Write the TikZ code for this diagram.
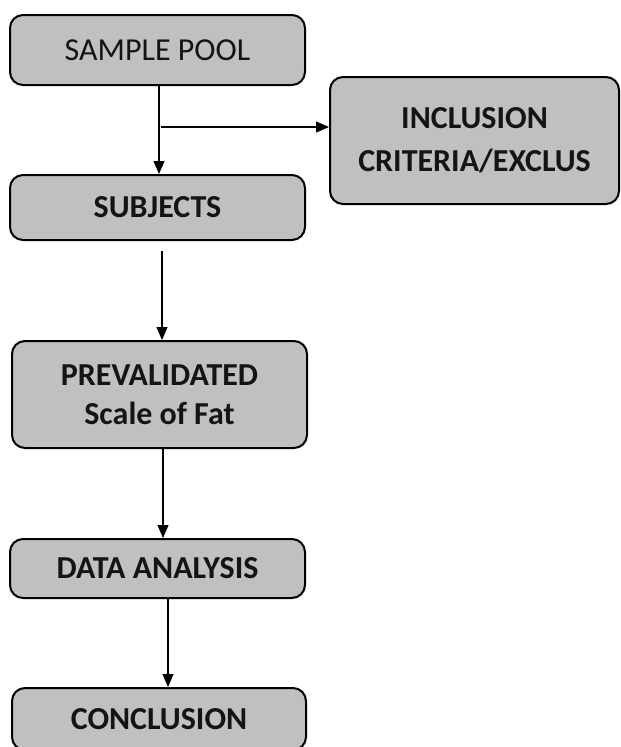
\documentclass[tikz,border=0pt]{standalone}
\usepackage{fontspec}
\setmainfont{Carlito}
\usetikzlibrary{arrows.meta,calc}
\definecolor{boxgray}{RGB}{192,192,192}
\definecolor{txt}{RGB}{20,20,20}
\tikzset{
  box/.style={draw=black, line width=2pt, fill=boxgray, rounded corners=13pt,
    align=center, text=txt, inner sep=0pt,
    font=\fontsize{32}{41}\selectfont},
  arr/.style={draw=black, line width=1.1pt, -{Triangle[length=13pt,width=11pt]}}
}
\begin{document}
\begin{tikzpicture}[x=1pt,y=-1pt]
\useasboundingbox (0,0) rectangle (621,747);
\clip (0,0) rectangle (621,747);
\node[box, minimum width=295pt, minimum height=70pt] (pool) at (157.5,50) {SAMPLE POOL};
\node[box, minimum width=295pt, minimum height=65pt, font=\fontsize{32}{41}\selectfont\bfseries] (subj) at (157.5,207.5) {SUBJECTS};
\node[box, minimum width=289pt, minimum height=127pt, font=\fontsize{32}{43}\selectfont\bfseries] (incl) at (474.5,140.5) {INCLUSION\\CRITERIA/EXCLUS};
\node[box, minimum width=295pt, minimum height=107pt, font=\fontsize{32}{39}\selectfont\bfseries] (prev) at (159.5,394.5) {PREVALIDATED\\Scale of Fat};
\node[box, minimum width=295pt, minimum height=59pt, font=\fontsize{32}{41}\selectfont\bfseries] (data) at (157.5,568.5) {DATA ANALYSIS};
\node[box, minimum width=294pt, minimum height=62pt, font=\fontsize{32}{41}\selectfont\bfseries] (concl) at (159,719) {CONCLUSION};
\coordinate (s1) at ([xshift=1.5pt]pool.south);
\draw[arr] (s1) -- (s1 |- subj.north);
\coordinate (br) at (161,127);
\draw[arr] (br) -- (br -| incl.west);
\coordinate (s2) at ([xshift=4.5pt,yshift=-10pt]subj.south);
\draw[arr] (s2) -- (s2 |- prev.north);
\coordinate (s3) at ([xshift=3.5pt]prev.south);
\draw[arr] (s3) -- (s3 |- data.north);
\coordinate (s4) at ([xshift=10.5pt]data.south);
\draw[arr] (s4) -- (s4 |- concl.north);
\end{tikzpicture}
\end{document}
